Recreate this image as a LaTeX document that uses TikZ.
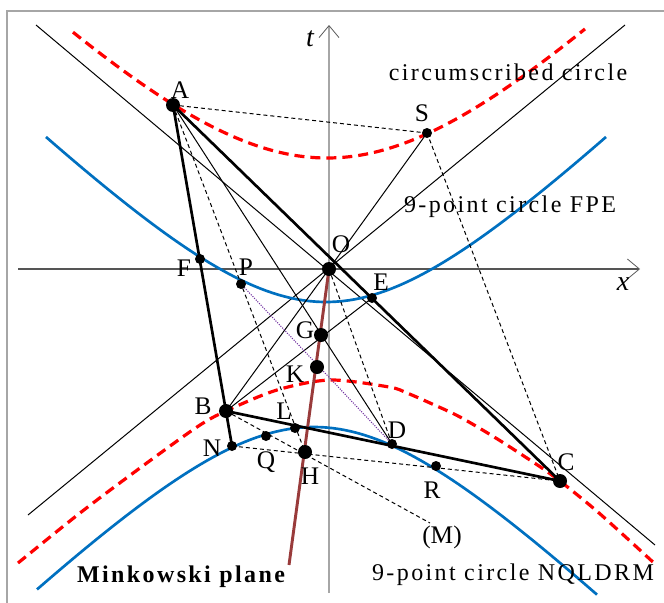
\documentclass[tikz,border=0pt]{standalone}
\usepackage{fontspec}
\setmainfont{Liberation Serif}
\newfontfamily\spacedfont[LetterSpace=10]{Liberation Serif}
\usetikzlibrary{arrows.meta}
\definecolor{cred}{HTML}{FF0000}
\definecolor{cblue}{HTML}{0070C0}
\definecolor{cbrown}{HTML}{993B3B}
\definecolor{cpurp}{HTML}{7030A0}
\definecolor{caxis}{HTML}{A6A6A6}
\definecolor{cmut}{HTML}{555555}

\begin{document}
\begin{tikzpicture}[x=0.75pt,y=-0.75pt,
    lbl/.style={font=\fontsize{19}{22}\selectfont,inner sep=0pt},
    captxt/.style={font=\spacedfont\fontsize{18}{22}\selectfont,inner sep=0pt,anchor=base},
    axis/.style={line width=#1,-{Straight Barb[length=9pt,width=15pt,line width=0.6pt,color=black!65]}},
    side/.style={line width=2pt,line join=round},
    aux/.style={line width=0.75pt},
    hid/.style={line width=0.75pt,dash pattern=on 3pt off 2.25pt},
    circum/.style={cred,line width=2.4pt,dash pattern=on 7.5pt off 4.5pt},
    ninept/.style={cblue,line width=2pt},
    euler/.style={cbrown,line width=2.2pt}]
  \useasboundingbox (0,0) rectangle (664,603);
  % ---- frame and axes
  \draw[gray!70,line width=1.2pt] (7,603) -- (7,11) -- (664,11);
  \coordinate (xL) at (18,269);  \coordinate (xR) at (640,269);
  \coordinate (tB) at (329,593); \coordinate (tT) at (329,25);
  \draw[axis=0.8pt,cmut] (xL) -- (xR);
  \draw[axis=1.3pt,caxis] (tB) -- (tT);
  \node[lbl,font=\fontsize{21}{24}\selectfont\itshape] (lt) at (310,39) {t};
  \node[lbl,font=\fontsize{21}{24}\selectfont\itshape] (lx) at (623,284) {x};
  % ---- light cone
  \coordinate (c1) at (36,25);  \coordinate (c2) at (655,545);
  \coordinate (c3) at (625,25); \coordinate (c4) at (28,515);
  \draw[aux] (c1) -- (c2);
  \draw[aux] (c3) -- (c4);
  % ---- circumscribed circle (two branches)
  \draw[circum] plot[domain=73:585,samples=90] (\x,{358-200*sqrt(1+((\x-327)/197.5)^2)});
  \draw[circum] plot[smooth] coordinates {(18,563) (80,513) (140,468) (197,427) (226,411)
    (277,390) (330,380) (389,387) (407,393) (430,403) (460,417) (499,440) (545,470)
    (560,481) (599,513) (654,563)};
  % ---- 9-point circle (two branches)
  \draw[ninept] plot[domain=46:606,samples=90] (\x,{452-150*sqrt(1+((\x-326)/151.6)^2)});
  \draw[ninept] plot[domain=37:597,samples=90] (\x,{277+150*sqrt(1+((\x-314)/151.6)^2)});
  % ---- points
  \coordinate (A) at (173,105); \coordinate (B) at (226,411); \coordinate (C) at (560,481);
  \coordinate (O) at (329,269); \coordinate (S) at (427,133);
  \coordinate (F) at (200,259); \coordinate (P) at (241,284); \coordinate (E) at (372,298);
  \coordinate (G) at (321,335); \coordinate (K) at (317,367); \coordinate (H) at (305,452);
  \coordinate (L) at (295,428); \coordinate (N) at (232,446); \coordinate (Q) at (266,436);
  \coordinate (D) at (392,444); \coordinate (R) at (436,466);
  \coordinate (M) at (430,523); \coordinate (eE) at (289,565);
  % ---- thin lines
  \draw[aux] (A) -- (D);
  \draw[aux] (B) -- (E);
  \draw[aux] (O) -- (B);
  \draw[aux] (O) -- (S);
  % ---- altitudes and other dashed lines
  \draw[hid] (A) -- (H);
  \draw[hid] (B) -- (M);
  \draw[hid] (N) -- (C);
  \draw[hid] (A) -- (S);
  \draw[hid] (S) -- (C);
  \draw[hid] (O) -- (D);
  \draw[cpurp,line width=0.8pt,densely dotted] (P) -- (D);
  % ---- Euler line
  \draw[euler] (O) -- (eE);
  % ---- triangle
  \draw[side] (A) -- (N);
  \draw[side] (A) -- (C);
  \draw[side] (B) -- (C);
  % ---- dots
  \foreach \p in {A,B,C,O,G,K,H}
    \fill (\p) circle[radius=7];
  \foreach \p in {S,F,P,E,L,N,Q,D,R}
    \fill (\p) circle[radius=5];
  % ---- labels
  \node[lbl] (lA) at (180,90) {A};
  \node[lbl] (lS) at (422,113) {S};
  \node[lbl] (lO) at (341,244) {O};
  \node[lbl] (lF) at (184,268) {F};
  \node[lbl] (lP) at (246,267) {P};
  \node[lbl] (lE) at (381,282) {E};
  \node[lbl] (lG) at (305,330) {G};
  \node[lbl] (lK) at (295,374) {K};
  \node[lbl] (lB) at (203,406) {B};
  \node[lbl] (lL) at (284,411) {L};
  \node[lbl] (lN) at (212,448) {N};
  \node[lbl] (lQ) at (266,462) {Q};
  \node[lbl] (lH) at (310,476) {H};
  \node[lbl] (lD) at (397,430) {D};
  \node[lbl] (lR) at (432,490) {R};
  \node[lbl] (lC) at (566,462) {C};
  \node[lbl] (lM) at (442,537) {(M)};
  % ---- captions
  \node[captxt] (t1) at (508,80) {circumscribed circle};
  \node[captxt] (t2) at (510,212) {9-point circle FPE};
  \node[captxt,font=\spacedfont\bfseries\fontsize{18}{22}\selectfont] (t3) at (181,582) {Minkowski plane};
  \node[captxt] (t4) at (513,580) {9-point circle NQLDRM};
\end{tikzpicture}
\end{document}
